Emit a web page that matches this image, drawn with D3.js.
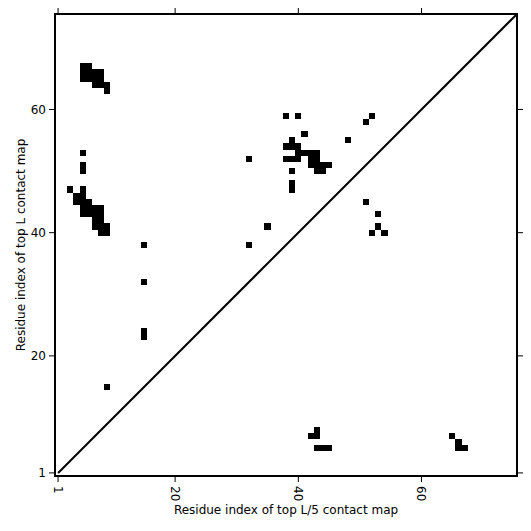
<!DOCTYPE html>
<html>
<head>
<meta charset="utf-8">
<script src="https://cdn.jsdelivr.net/npm/d3@7"></script>
<style>
  body { margin: 0; background: #fff; }
  text { font-family: "DejaVu Sans", sans-serif; fill: #000; }
</style>
</head>
<body>
<svg id="chart" width="531" height="531"></svg>
<script>
// residue count of the map
const seqLength = 75;

// top L contacts (drawn above the diagonal), [residue x, residue y]
const topLContacts = [
  [5, 65], [5, 66], [5, 67], [6, 65], [6, 66], [6, 67],
  [7, 64], [7, 65], [7, 66], [8, 64], [8, 65], [8, 66], [9, 63], [9, 64],
  [5, 53], [5, 50], [5, 51], [3, 47], [5, 47],
  [4, 46], [5, 46], [4, 45], [5, 45], [6, 45],
  [5, 44], [6, 44], [7, 44], [8, 44], [5, 43], [6, 43], [7, 43], [8, 43],
  [7, 42], [8, 42], [7, 41], [8, 41], [9, 41], [8, 40], [9, 40],
  [15, 38], [15, 32], [15, 23], [15, 24], [9, 15],
  [32, 52], [32, 38], [35, 41],
  [38, 59], [40, 59], [41, 56], [48, 55], [52, 59], [51, 58], [39, 55],
  [38, 54], [39, 54], [40, 54],
  [40, 53], [41, 53], [42, 53], [43, 53],
  [38, 52], [39, 52], [40, 52], [42, 52], [43, 52],
  [42, 51], [43, 51], [44, 51], [45, 51],
  [43, 50], [44, 50], [39, 50], [39, 47], [39, 48]
];

// top L/5 contacts (drawn below the diagonal)
const topL5Contacts = [
  [51, 45], [53, 43], [53, 41], [52, 40], [54, 40],
  [42, 7], [43, 7], [43, 8], [43, 5], [44, 5], [45, 5],
  [65, 7], [66, 6], [66, 5], [67, 5]
];

const tickValues = [1, 20, 40, 60];

const svg = d3.select("#chart");
const plotLeft = 55, plotRight = 517, plotTop = 14, plotBottom = 476;

const x = d3.scaleLinear().domain([0.5, seqLength + 0.5]).range([plotLeft, plotRight]);
const y = d3.scaleLinear().domain([0.5, seqLength + 0.5]).range([plotBottom, plotTop]);

svg.append("clipPath").attr("id", "plot-clip")
  .append("rect")
  .attr("x", plotLeft).attr("y", plotTop)
  .attr("width", plotRight - plotLeft).attr("height", plotBottom - plotTop);

const plot = svg.append("g").attr("clip-path", "url(#plot-clip)");

const allCells = topLContacts.concat(topL5Contacts);

plot.selectAll("rect.cell")
  .data(allCells)
  .enter()
  .append("rect")
  .attr("class", "cell")
  .attr("x", d => x(d[0] - 0.5))
  .attr("y", d => y(d[1] + 0.5))
  .attr("width", d => x(d[0] + 0.5) - x(d[0] - 0.5))
  .attr("height", d => y(d[1] - 0.5) - y(d[1] + 0.5))
  .attr("fill", "#000")
  .attr("shape-rendering", "crispEdges");

// diagonal
plot.append("line")
  .attr("x1", x(1)).attr("y1", y(1))
  .attr("x2", x(seqLength + 1)).attr("y2", y(seqLength + 1))
  .attr("stroke", "#000")
  .attr("stroke-width", 2);

// frame
svg.append("rect")
  .attr("x", plotLeft).attr("y", plotTop)
  .attr("width", plotRight - plotLeft).attr("height", plotBottom - plotTop)
  .attr("fill", "none")
  .attr("stroke", "#000")
  .attr("stroke-width", 2);

// ticks on all four sides, pointing out
const tickLen = 6;
tickValues.forEach(function(v) {
  svg.append("line")
    .attr("x1", x(v)).attr("x2", x(v))
    .attr("y1", plotBottom).attr("y2", plotBottom + tickLen)
    .attr("stroke", "#000");
  svg.append("line")
    .attr("x1", x(v)).attr("x2", x(v))
    .attr("y1", plotTop).attr("y2", plotTop - tickLen)
    .attr("stroke", "#000");
  svg.append("line")
    .attr("x1", plotLeft).attr("x2", plotLeft - tickLen)
    .attr("y1", y(v)).attr("y2", y(v))
    .attr("stroke", "#000");
  svg.append("line")
    .attr("x1", plotRight).attr("x2", plotRight + tickLen)
    .attr("y1", y(v)).attr("y2", y(v))
    .attr("stroke", "#000");

  svg.append("text")
    .attr("transform", `translate(${x(v)},${plotBottom + tickLen + 4}) rotate(90)`)
    .attr("dy", "0.35em")
    .attr("text-anchor", "start")
    .style("font-size", "12px")
    .text(v);

  svg.append("text")
    .attr("x", plotLeft - tickLen - 3)
    .attr("y", y(v))
    .attr("dy", "0.35em")
    .attr("text-anchor", "end")
    .style("font-size", "12px")
    .text(v);
});

svg.append("text")
  .attr("x", (plotLeft + plotRight) / 2)
  .attr("y", 514)
  .attr("text-anchor", "middle")
  .style("font-size", "12px")
  .text("Residue index of top L/5 contact map");

svg.append("text")
  .attr("transform", `translate(25,${(plotTop + plotBottom) / 2}) rotate(-90)`)
  .attr("text-anchor", "middle")
  .style("font-size", "12px")
  .text("Residue index of top L contact map");
</script>
</body>
</html>
